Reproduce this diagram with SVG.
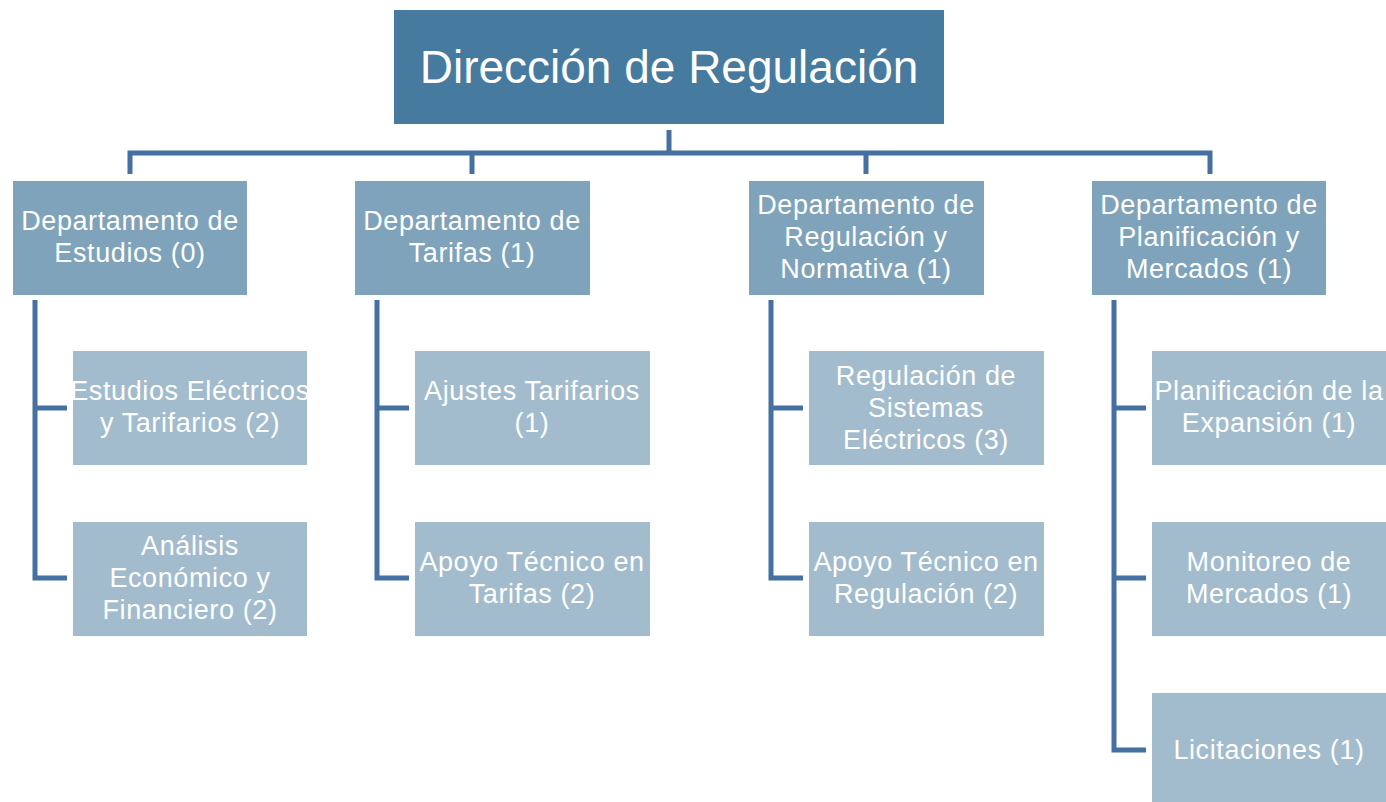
<svg xmlns="http://www.w3.org/2000/svg" width="1386" height="802" viewBox="0 0 1386 802">
<style>
.top{fill:#467a9e}
.dept{fill:#7fa3bb}
.sub{fill:#a2bccd}
.t{fill:#ffffff;font-family:"Liberation Sans",Arial,sans-serif;font-size:27px;letter-spacing:0.6px;text-anchor:middle}
.tt{fill:#ffffff;font-family:"Liberation Sans",Arial,sans-serif;font-size:46px;text-anchor:middle}
.c{fill:none;stroke:#4470a2;stroke-width:5}
</style>
<rect width="1386" height="802" fill="#ffffff"/>
<g id="connectors">
<path class="c" d="M669,130V153M130,174V153H1210V174M472,153V174M866,153V174"/>
<path class="c" d="M35,300V578H67M35,408H67"/>
<path class="c" d="M377,300V578H409M377,408H409"/>
<path class="c" d="M771,300V578H803M771,408H803"/>
<path class="c" d="M1114,300V750H1146M1114,408H1146M1114,578H1146"/>
</g>
<g id="n0"><rect class="top" x="394" y="10" width="550" height="114"/><text class="tt" x="669" y="83">Dirección de Regulación</text></g>
<g id="d1"><rect class="dept" x="13" y="181" width="234" height="114"/><text class="t" x="130" y="230">Departamento de</text><text class="t" x="130" y="262">Estudios (0)</text></g>
<g id="d2"><rect class="dept" x="355" y="181" width="235" height="114"/><text class="t" x="472" y="230">Departamento de</text><text class="t" x="472" y="262">Tarifas (1)</text></g>
<g id="d3"><rect class="dept" x="749" y="181" width="235" height="114"/><text class="t" x="866" y="214">Departamento de</text><text class="t" x="866" y="246">Regulación y</text><text class="t" x="866" y="278">Normativa (1)</text></g>
<g id="d4"><rect class="dept" x="1092" y="181" width="234" height="114"/><text class="t" x="1209" y="214">Departamento de</text><text class="t" x="1209" y="246">Planificación y</text><text class="t" x="1209" y="278">Mercados (1)</text></g>
<g id="s11"><rect class="sub" x="73" y="351" width="234" height="114"/><text class="t" x="190" y="400">Estudios Eléctricos</text><text class="t" x="190" y="432">y Tarifarios (2)</text></g>
<g id="s12"><rect class="sub" x="73" y="522" width="234" height="114"/><text class="t" x="190" y="555">Análisis</text><text class="t" x="190" y="587">Económico y</text><text class="t" x="190" y="619">Financiero (2)</text></g>
<g id="s21"><rect class="sub" x="415" y="351" width="235" height="114"/><text class="t" x="532" y="400">Ajustes Tarifarios</text><text class="t" x="532" y="432">(1)</text></g>
<g id="s22"><rect class="sub" x="415" y="522" width="235" height="114"/><text class="t" x="532" y="571">Apoyo Técnico en</text><text class="t" x="532" y="603">Tarifas (2)</text></g>
<g id="s31"><rect class="sub" x="809" y="351" width="235" height="114"/><text class="t" x="926" y="385">Regulación de</text><text class="t" x="926" y="417">Sistemas</text><text class="t" x="926" y="449">Eléctricos (3)</text></g>
<g id="s32"><rect class="sub" x="809" y="522" width="235" height="114"/><text class="t" x="926" y="571">Apoyo Técnico en</text><text class="t" x="926" y="603">Regulación (2)</text></g>
<g id="s41"><rect class="sub" x="1152" y="351" width="234" height="114"/><text class="t" x="1269" y="400">Planificación de la</text><text class="t" x="1269" y="432">Expansión (1)</text></g>
<g id="s42"><rect class="sub" x="1152" y="522" width="234" height="114"/><text class="t" x="1269" y="571">Monitoreo de</text><text class="t" x="1269" y="603">Mercados (1)</text></g>
<g id="s43"><rect class="sub" x="1152" y="693" width="234" height="109"/><text class="t" x="1269" y="759">Licitaciones (1)</text></g>
</svg>
